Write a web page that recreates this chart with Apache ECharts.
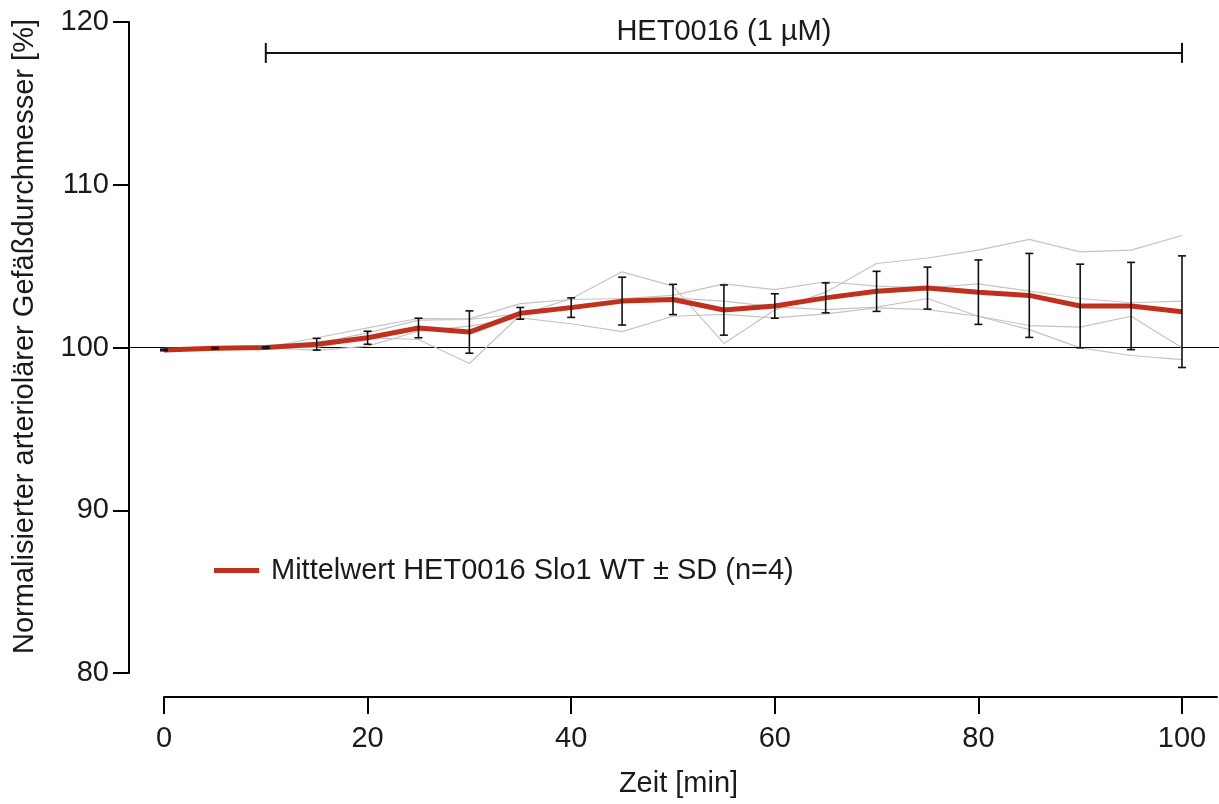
<!DOCTYPE html>
<html>
<head>
<meta charset="utf-8">
<script src="https://cdn.jsdelivr.net/npm/echarts@6/dist/echarts.min.js"></script>
<style>
  html, body { margin: 0; padding: 0; background: #fff; }
  #main { width: 1219px; height: 804px; }
</style>
</head>
<body>
<div id="main"></div>
<script>
// Zeitpunkte [min]
const time = [0, 5, 10, 15, 20, 25, 30, 35, 40, 45, 50, 55, 60, 65, 70, 75, 80, 85, 90, 95, 100]
// Mittelwert und SD
const mean = [99.85, 99.95, 100.0, 100.2, 100.6, 101.2, 100.95, 102.1, 102.45, 102.85, 102.95, 102.3, 102.55, 103.05, 103.45, 103.65, 103.4, 103.2, 102.55, 102.55, 102.2]
const sd = [0.05, 0.05, 0.05, 0.36, 0.4, 0.6, 1.3, 0.36, 0.6, 1.47, 0.93, 1.54, 0.75, 0.92, 1.23, 1.29, 1.98, 2.58, 2.57, 2.68, 3.43]
// Einzelmessungen (n=4)
const rep1 = [99.8, 99.95, 100.0, 100.0, 100.6, 100.49, 99.02, 102.0, 103.0, 104.65, 103.77, 100.25, 102.3, 103.4, 105.16, 105.5, 105.98, 106.64, 105.88, 105.98, 106.88]
const rep2 = [99.85, 99.95, 100.0, 100.6, 101.21, 101.78, 101.76, 102.7, 102.95, 103.01, 103.2, 103.91, 103.56, 104.04, 103.77, 103.67, 103.91, 103.46, 103.01, 102.75, 102.85]
const rep3 = [99.9, 99.95, 100.0, 100.25, 100.9, 101.68, 101.72, 102.07, 102.58, 102.85, 103.05, 102.85, 102.5, 102.33, 102.48, 103.01, 101.92, 101.35, 101.25, 101.92, 99.98]
const rep4 = [99.85, 99.95, 100.0, 99.82, 100.08, 101.0, 101.31, 101.82, 101.46, 100.98, 101.92, 102.03, 101.82, 102.07, 102.44, 102.33, 101.92, 101.1, 99.98, 99.51, 99.26]
// Achsen
const xTicks = [0, 20, 40, 60, 80, 100]
const yTicks = [80, 90, 100, 110, 120]
const baseline = 100
// Behandlungszeitraum
const treatStart = 10
const treatEnd = 100
const treatLevel = 118.1
const treatLabel = 'HET0016 (1 µM)'

const meanName = 'Mittelwert HET0016 Slo1 WT ± SD (n=4)'
const font = '"Liberation Sans", Arial, sans-serif'
const fs = 29
const textColor = '#1a1a1a'
const red = '#c1301c'

const pairs = arr => time.map((t, i) => [t, arr[i]])

const repSeries = [rep1, rep2, rep3, rep4].map((r, k) => ({
  name: 'rep' + (k + 1),
  type: 'line',
  data: pairs(r),
  symbol: 'none',
  z: 1,
  lineStyle: { color: '#c4c4c4', width: 1.2 }
}))

const chart = echarts.init(document.getElementById('main'))

const option = {
  animation: false,
  backgroundColor: '#fff',
  textStyle: { fontFamily: font },
  legend: {
    data: [meanName],
    left: 209,
    top: 551,
    icon: 'rect',
    itemWidth: 45,
    itemHeight: 5,
    itemStyle: { color: red },
    textStyle: { fontSize: fs, color: textColor, fontFamily: font, padding: [0, 0, 0, 7] }
  },
  grid: [
    { left: 164, right: 2, top: 22, bottom: 131 },
    { left: 129, right: 0, top: 22, bottom: 131 }
  ],
  xAxis: [{
    type: 'value',
    gridIndex: 0,
    min: 0,
    max: 103.44,
    interval: 20,
    offset: 24,
    name: 'Zeit [min]',
    nameLocation: 'middle',
    nameGap: 72,
    nameTextStyle: { fontSize: fs, color: textColor, fontFamily: font, padding: [0, 24, 0, 0] },
    axisLine: { show: true, onZero: false, lineStyle: { color: '#000', width: 2 } },
    axisTick: { show: true, length: 17, customValues: xTicks, lineStyle: { color: '#000', width: 2 } },
    axisLabel: { customValues: xTicks, margin: 27, fontSize: fs, color: textColor, fontFamily: font },
    splitLine: { show: false }
  }, {
    type: 'value',
    gridIndex: 1,
    min: 0,
    max: 1,
    show: false
  }],
  yAxis: [{
    type: 'value',
    gridIndex: 0,
    min: 80,
    max: 120,
    interval: 10,
    offset: 35,
    name: 'Normalisierter arteriolärer Gefäßdurchmesser [%]',
    nameLocation: 'middle',
    nameRotate: 90,
    nameGap: 90,
    nameTextStyle: { fontSize: fs, color: textColor, fontFamily: font, padding: [0, 0, 0, 22] },
    axisLine: { show: true, onZero: false, lineStyle: { color: '#000', width: 2 } },
    axisTick: { show: true, length: 16, customValues: yTicks, lineStyle: { color: '#000', width: 2 } },
    axisLabel: { customValues: yTicks, margin: 20, fontSize: fs, color: textColor, fontFamily: font },
    splitLine: { show: false }
  }, {
    type: 'value',
    gridIndex: 1,
    min: 80,
    max: 120,
    show: false
  }],
  series: [
    // Nulllinie 100 %
    {
      name: 'baseline',
      type: 'line',
      xAxisIndex: 1,
      yAxisIndex: 1,
      data: [[0, baseline], [1, baseline]],
      symbol: 'none',
      z: 0,
      lineStyle: { color: '#000', width: 1 }
    },
    ...repSeries,
    {
      name: meanName,
      type: 'line',
      data: pairs(mean),
      symbol: 'none',
      z: 2,
      itemStyle: { color: red },
      lineStyle: { color: red, width: 5 }
    },
    // Fehlerbalken ± SD
    {
      name: 'sd',
      type: 'custom',
      z: 3,
      data: time.map((t, i) => [t, mean[i] - sd[i], mean[i] + sd[i]]),
      encode: { x: 0, y: [1, 2] },
      renderItem(params, api) {
        const lo = api.coord([api.value(0), api.value(1)])
        const hi = api.coord([api.value(0), api.value(2)])
        const w = 4
        const style = { stroke: '#111', lineWidth: 1.6 }
        return {
          type: 'group',
          children: [
            { type: 'line', shape: { x1: lo[0], y1: lo[1], x2: hi[0], y2: hi[1] }, style },
            { type: 'line', shape: { x1: lo[0] - w, y1: lo[1], x2: lo[0] + w, y2: lo[1] }, style },
            { type: 'line', shape: { x1: hi[0] - w, y1: hi[1], x2: hi[0] + w, y2: hi[1] }, style }
          ]
        }
      }
    },
    // Balken für Behandlungszeitraum
    {
      name: 'treat',
      type: 'custom',
      z: 3,
      data: [[treatStart, treatEnd, treatLevel]],
      renderItem(params, api) {
        const a = api.coord([api.value(0), api.value(2)])
        const b = api.coord([api.value(1), api.value(2)])
        const h = 10
        const style = { stroke: '#111', lineWidth: 2 }
        return {
          type: 'group',
          children: [
            { type: 'line', shape: { x1: a[0], y1: a[1], x2: b[0], y2: b[1] }, style },
            { type: 'line', shape: { x1: a[0], y1: a[1] - h, x2: a[0], y2: a[1] + h }, style },
            { type: 'line', shape: { x1: b[0], y1: b[1] - h, x2: b[0], y2: b[1] + h }, style },
            {
              type: 'text',
              style: {
                text: treatLabel,
                x: (a[0] + b[0]) / 2,
                y: a[1] - 21,
                align: 'center',
                verticalAlign: 'middle',
                fill: textColor,
                font: fs + 'px ' + font
              }
            }
          ]
        }
      }
    }
  ]
}

chart.setOption(option)
</script>
</body>
</html>
